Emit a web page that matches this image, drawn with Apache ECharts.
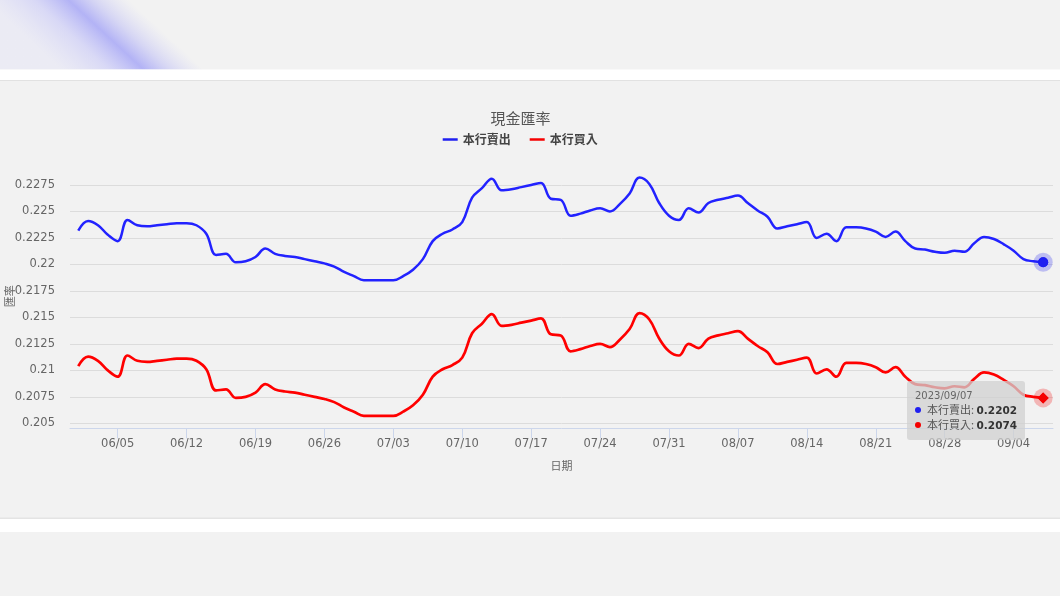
<!DOCTYPE html>
<html>
<head>
<meta charset="utf-8">
<script src="https://cdn.jsdelivr.net/npm/echarts@6/dist/echarts.min.js"></script>
<style>
  html, body { margin: 0; padding: 0; background: #f2f2f2; }
  #chart { width: 1060px; height: 596px; }
</style>
</head>
<body>
<div id="chart"></div>
<script>
// data (2023, daily)
const YEAR = 2023;
const dates = [
  '06/01','06/02','06/03','06/04','06/05','06/06','06/07','06/08','06/09','06/10',
  '06/11','06/12','06/13','06/14','06/15','06/16','06/17','06/18','06/19','06/20',
  '06/21','06/22','06/23','06/24','06/25','06/26','06/27','06/28','06/29','06/30',
  '07/01','07/02','07/03','07/04','07/05','07/06','07/07','07/08','07/09','07/10',
  '07/11','07/12','07/13','07/14','07/15','07/16','07/17','07/18','07/19','07/20',
  '07/21','07/22','07/23','07/24','07/25','07/26','07/27','07/28','07/29','07/30',
  '07/31','08/01','08/02','08/03','08/04','08/05','08/06','08/07','08/08','08/09',
  '08/10','08/11','08/12','08/13','08/14','08/15','08/16','08/17','08/18','08/19',
  '08/20','08/21','08/22','08/23','08/24','08/25','08/26','08/27','08/28','08/29',
  '08/30','08/31','09/01','09/02','09/03','09/04','09/05','09/06','09/07'
];
// 本行賣出
const sellRate = [
  0.2232,0.2241,0.2237,0.2228,0.2222,0.2242,0.2237,0.2236,0.2237,0.2238,
  0.2239,0.2239,0.2237,0.2229,0.2209,0.2210,0.2202,0.2203,0.2207,0.2215,
  0.2210,0.2208,0.2207,0.2205,0.2203,0.2201,0.2198,0.2193,0.2189,0.2185,
  0.2185,0.2185,0.2185,0.2189,0.2195,0.2205,0.2222,0.2229,0.2233,0.2240,
  0.2263,0.2272,0.2281,0.2270,0.2271,0.2273,0.2275,0.2277,0.2262,0.2261,
  0.2246,0.2248,0.2251,0.2253,0.2250,0.2257,0.2267,0.2282,0.2276,0.2258,
  0.2246,0.2242,0.2253,0.2249,0.2258,0.2261,0.2263,0.2265,0.2258,0.2251,
  0.2245,0.2234,0.2236,0.2238,0.2240,0.2225,0.2229,0.2222,0.2235,0.2235,
  0.2234,0.2231,0.2226,0.2231,0.2222,0.2215,0.2214,0.2212,0.2211,0.2213,
  0.2212,0.2220,0.2226,0.2224,0.2219,0.2213,0.2205,0.2203,0.2202
];
// 本行買入
const buyRate = [
  0.2104,0.2113,0.2109,0.2100,0.2094,0.2114,0.2109,0.2108,0.2109,0.2110,
  0.2111,0.2111,0.2109,0.2101,0.2081,0.2082,0.2074,0.2075,0.2079,0.2087,
  0.2082,0.2080,0.2079,0.2077,0.2075,0.2073,0.2070,0.2065,0.2061,0.2057,
  0.2057,0.2057,0.2057,0.2061,0.2067,0.2077,0.2094,0.2101,0.2105,0.2112,
  0.2135,0.2144,0.2153,0.2142,0.2143,0.2145,0.2147,0.2149,0.2134,0.2133,
  0.2118,0.2120,0.2123,0.2125,0.2122,0.2129,0.2139,0.2154,0.2148,0.2130,
  0.2118,0.2114,0.2125,0.2121,0.2130,0.2133,0.2135,0.2137,0.2130,0.2123,
  0.2117,0.2106,0.2108,0.2110,0.2112,0.2097,0.2101,0.2094,0.2107,0.2107,
  0.2106,0.2103,0.2098,0.2103,0.2094,0.2087,0.2086,0.2084,0.2083,0.2085,
  0.2084,0.2092,0.2098,0.2096,0.2091,0.2085,0.2077,0.2075,0.2074
];
const tickDates = ['06/05','06/12','06/19','06/26','07/03','07/10','07/17',
  '07/24','07/31','08/07','08/14','08/21','08/28','09/04'];
const seriesNames = ['本行賣出', '本行買入'];
const seriesColors = ['#1f1ff0', '#f50000'];

const LATIN = '"DejaVu Sans", "Noto Sans CJK TC", sans-serif';
const CJK = '"Noto Sans CJK TC", sans-serif';
const DAY = 86400000;
const start = Date.UTC(YEAR, 5, 1);

// day number from 06/01, and back
function dayOf(md) {
  const [m, d] = md.split('/').map(Number);
  return (Date.UTC(YEAR, m - 1, d) - start) / DAY;
}
function pad(n) { return n < 10 ? '0' + n : '' + n; }
function mdOf(day) {
  const t = new Date(start + Math.round(day) * DAY);
  return pad(t.getUTCMonth() + 1) + '/' + pad(t.getUTCDate());
}

const chart = echarts.init(document.getElementById('chart'));
const last = dates.length - 1;
const tickDays = tickDates.map(dayOf);

function endMarker(values, i, symbol) {
  const coord = [dayOf(dates[last]), values[last]];
  const c = seriesColors[i];
  return {
    silent: true,
    animation: false,
    label: { show: false },
    data: [
      { coord, symbol: 'circle', symbolSize: 19, itemStyle: { color: c, opacity: 0.25 } },
      { coord, symbol, symbolSize: symbol === 'diamond' ? 11 : 10, itemStyle: { color: c } },
    ],
  };
}

const option = {
  animation: false,
  backgroundColor: '#f2f2f2',
  textStyle: { fontFamily: LATIN },
  graphic: [
    // blurred purple stripe of the page header, gradient across the stripe
    {
      type: 'rect', z: -5,
      shape: { x: 0, y: 0, width: 240, height: 69.5 },
      style: {
        fill: {
          type: 'linear', global: true,
          x: 66, y: 74, x2: 139, y2: -5,
          colorStops: [
            { offset: 0, color: 'rgba(222,222,248,0.35)' },
            { offset: 0.3, color: 'rgba(200,200,248,0.6)' },
            { offset: 0.52, color: 'rgba(172,172,246,0.9)' },
            { offset: 0.68, color: 'rgba(180,180,246,0.45)' },
            { offset: 0.9, color: 'rgba(200,200,248,0)' },
          ],
        },
      },
    },
    { type: 'rect', z: -4, shape: { x: 0, y: 69.5, width: 1060, height: 10.5 }, style: { fill: '#ffffff' } },
    { type: 'rect', z: -4, shape: { x: 0, y: 80, width: 1060, height: 1 }, style: { fill: '#e2e2e2' } },
    { type: 'rect', z: -4, shape: { x: 0, y: 517.5, width: 1060, height: 1.5 }, style: { fill: '#e4e4e4' } },
    { type: 'rect', z: -4, shape: { x: 0, y: 519, width: 1060, height: 13 }, style: { fill: '#ffffff' } },
  ],
  title: {
    text: '現金匯率',
    left: 520.5,
    top: 111,
    textAlign: 'center',
    padding: 0,
    textStyle: { fontFamily: CJK, fontSize: 15, fontWeight: 'normal', color: '#555' },
  },
  legend: {
    data: seriesNames,
    left: 442.7,
    top: 133.5,
    padding: 0,
    itemGap: 19,
    itemWidth: 15,
    itemHeight: 2.5,
    icon: 'rect',
    textStyle: { fontFamily: CJK, fontSize: 12, fontWeight: 'bold', color: '#444' },
  },
  grid: {
    left: 70,
    right: 7,
    top: 185,
    bottom: 172.7,
    containLabel: false,
    outerBoundsMode: 'none',
  },
  tooltip: {
    trigger: 'axis',
    alwaysShowContent: true,
    position: [907, 381],
    transitionDuration: 0,
    axisPointer: { type: 'line', lineStyle: { opacity: 0 } },
    backgroundColor: 'rgba(208,208,208,0.75)',
    borderWidth: 0,
    padding: [8, 8],
    extraCssText: 'box-shadow:none;border-radius:3px;',
    formatter: params => {
      const i = params[0].dataIndex;
      let html = '<div style="font-family:DejaVu Sans,sans-serif;font-size:10px;line-height:13px;color:#666">'
        + YEAR + '/' + dates[i] + '</div>';
      params.forEach(p => {
        const c = seriesColors[p.seriesIndex];
        html += '<div style="line-height:14px;font-size:11px;color:#555;font-family:Noto Sans CJK TC,sans-serif">'
          + '<span style="display:inline-block;width:6px;height:6px;border-radius:3px;background:' + c
          + ';margin-right:6px;vertical-align:1px"></span>' + p.seriesName + ': '
          + '<b style="color:#333;font-family:DejaVu Sans,sans-serif;font-size:10.5px">'
          + p.value[1].toFixed(4) + '</b></div>';
      });
      return html;
    },
  },
  xAxis: {
    type: 'value',
    min: -0.84,
    max: 99.0,
    offset: 5,
    name: '日期',
    nameLocation: 'middle',
    nameGap: 32,
    nameTextStyle: { fontFamily: CJK, fontSize: 11, color: '#666' },
    axisLine: { show: true, lineStyle: { color: '#ccd6eb', width: 1 } },
    axisTick: { show: true, length: 10, customValues: tickDays, lineStyle: { color: '#ccd6eb' } },
    axisLabel: {
      customValues: tickDays,
      formatter: v => mdOf(v),
      color: '#666',
      fontSize: 11.5,
      margin: 10,
    },
    splitLine: { show: false },
  },
  yAxis: {
    type: 'value',
    min: 0.205,
    max: 0.2275,
    interval: 0.0025,
    name: '匯率',
    nameLocation: 'middle',
    nameGap: 54.5,
    nameRotate: 90,
    nameMoveOverlap: false,
    nameTextStyle: { fontFamily: CJK, fontSize: 11, color: '#666', padding: [0, 0, 0, 16] },
    axisLine: { show: false },
    axisTick: { show: false },
    axisLabel: {
      formatter: v => String(+v.toFixed(4)),
      color: '#666',
      fontSize: 11.5,
      margin: 15,
    },
    splitLine: { show: true, lineStyle: { color: '#dcdcdc', width: 1 } },
  },
  series: [
    {
      name: seriesNames[0],
      type: 'line',
      data: dates.map((d, i) => [dayOf(d), sellRate[i]]),
      smooth: 0.4,
      clip: false,
      showSymbol: false,
      symbol: 'circle',
      symbolSize: 10,
      color: seriesColors[0],
      lineStyle: { width: 2.5, color: seriesColors[0] },
      emphasis: { scale: false },
      markPoint: endMarker(sellRate, 0, 'circle'),
    },
    {
      name: seriesNames[1],
      type: 'line',
      data: dates.map((d, i) => [dayOf(d), buyRate[i]]),
      smooth: 0.4,
      clip: false,
      showSymbol: false,
      symbol: 'diamond',
      symbolSize: 11,
      color: seriesColors[1],
      lineStyle: { width: 2.7, color: seriesColors[1] },
      emphasis: { scale: false },
      markPoint: endMarker(buyRate, 1, 'diamond'),
    },
  ],
};

chart.setOption(option);
chart.dispatchAction({ type: 'showTip', seriesIndex: 0, dataIndex: last });
</script>
</body>
</html>
